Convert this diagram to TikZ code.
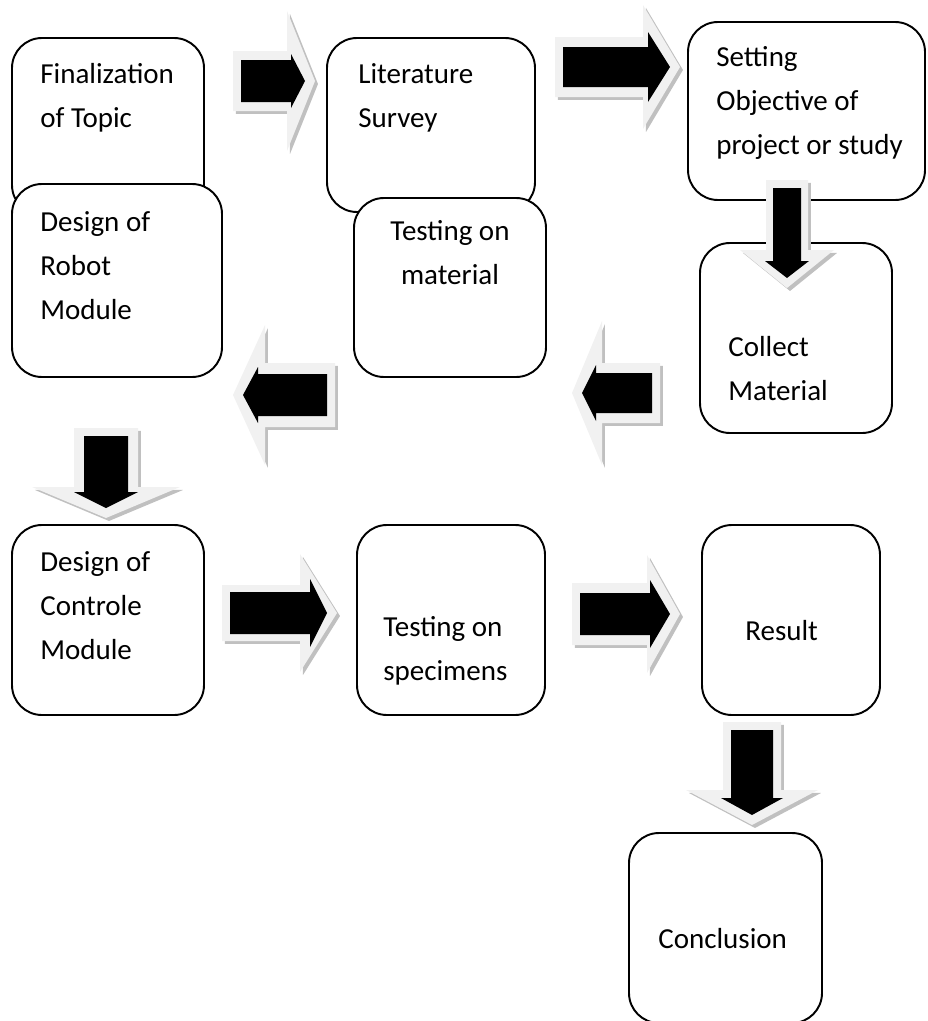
\documentclass[tikz,border=0pt]{standalone}
\usepackage{fontspec}
\setmainfont{Carlito}
\usepackage{tikz}
\usetikzlibrary{calc}
\usetikzlibrary{fit}
\definecolor{arrowgray}{RGB}{241, 241, 241}
\definecolor{shadowgray}{RGB}{192, 192, 192}

\newcommand{\pxlen}{0.02cm}
% outline of a block arrow: tail, head base, tip, shaft half width, head half width
\newcommand{\baoutline}[5]{($(#1)!#4*\pxlen!90:(#3)$) -- ($(#2)!#4*\pxlen!90:(#3)$) -- ($(#2)!#5*\pxlen!90:(#3)$) -- (#3) -- ($(#2)!#5*\pxlen!-90:(#3)$) -- ($(#2)!#4*\pxlen!-90:(#3)$) -- ($(#1)!#4*\pxlen!-90:(#3)$) -- cycle}
% tail, tip, outer shaft/head/head length, inner shaft/head/head length
\newcommand{\blockarrow}[8]{%
    \coordinate (ba-t) at (#1);
    \coordinate (ba-h) at (#2);
    \coordinate (ba-b) at ($(ba-h)!#5*\pxlen!(ba-t)$);
    \coordinate (ba-it) at ($(ba-t)!8*\pxlen!(ba-h)$);
    \coordinate (ba-ih) at ($(ba-h)!10*\pxlen!(ba-t)$);
    \coordinate (ba-ib) at ($(ba-ih)!#8*\pxlen!(ba-it)$);
    \fill[shadowgray, transform canvas={shift={(1.7pt,-1.7pt)}}] \baoutline{ba-t}{ba-b}{ba-h}{#3}{#4};
    \fill[arrowgray] \baoutline{ba-t}{ba-b}{ba-h}{#3}{#4};
    \fill[black] \baoutline{ba-it}{ba-ib}{ba-ih}{#6}{#7};
}

\begin{document}
\begin{tikzpicture}[x=0.02cm, y=-0.02cm,
            stage/.style = {
                draw,
                line width=1.1pt,
                rounded corners=0.6cm,
                fill=white,
                inner sep=0pt,
                },
            caption/.style = {
                font=\fontsize{16.5}{25}\selectfont,
                align=left,
                inner sep=0pt,
                anchor=base west}]
            \useasboundingbox (0,0) rectangle (927,1021);

            % the base of a caption is on its last line
            \node[stage, fit={(12,38) (204,215)}] (fin) {};
            \node[caption] (fin-t) at (40,127) {Finalization\\of Topic};
            \node[stage, fit={(12,184) (222,377)}] (rob) {};
            \node[caption] (rob-t) at (40,319) {Design of\\Robot\\Module};
            \node[stage, fit={(327,38) (535,212)}] (lit) {};
            \node[caption] (lit-t) at (358,127) {Literature\\Survey};
            \node[stage, fit={(354,198) (546,377)}] (mat) {};
            \node[caption, align=center, anchor=base] (mat-t) at (450,284) {Testing on\\material};
            \node[stage, fit={(688,22) (925,200)}] (set) {};
            \node[caption] (set-t) at (716,154) {Setting\\Objective of\\project or study};
            \node[stage, fit={(700,243) (892,433)}] (col) {};
            \node[caption] (col-t) at (728,400) {Collect\\Material};

            \node[stage, fit={(12,525) (204,715)}] (ctl) {};
            \node[caption] (ctl-t) at (40,659) {Design of\\Controle\\Module};
            \node[stage, fit={(357,525) (545,715)}] (spc) {};
            \node[caption] (spc-t) at (383,680) {Testing on\\specimens};
            \node[stage, fit={(702,525) (880,715)}] (res) {};
            \node[caption] (res-t) at (745,640) {Result};
            \node[stage, fit={(629,833) (822,1023)}] (con) {};
            \node[caption] (con-t) at (658,948) {Conclusion};

            \coordinate (fin-lit-s) at (233,81);
            \coordinate (fin-lit-e) at (315,81);
            \coordinate (lit-set-s) at (555,67);
            \coordinate (lit-set-e) at (680,67);
            \coordinate (set-col-s) at (787,180);
            \coordinate (set-col-e) at (787,288);
            \coordinate (col-mat-s) at (660,393);
            \coordinate (col-mat-e) at (572,393);
            \coordinate (mat-rob-s) at (335,395);
            \coordinate (mat-rob-e) at (233,395);
            \coordinate (rob-ctl-s) at (106,428);
            \coordinate (rob-ctl-e) at (106,518);
            \coordinate (ctl-spc-s) at (222,613);
            \coordinate (ctl-spc-e) at (337,613);
            \coordinate (spc-res-s) at (572,614);
            \coordinate (spc-res-e) at (680,614);
            \coordinate (res-con-s) at (752,722);
            \coordinate (res-con-e) at (752,825);

            \blockarrow{fin-lit-s}{fin-lit-e}{30}{70}{28}{21}{27}{14}
            \blockarrow{lit-set-s}{lit-set-e}{30}{62}{37}{20}{35}{22}
            \blockarrow{set-col-s}{set-col-e}{21}{47}{38}{14}{22}{17}
            \blockarrow{col-mat-s}{col-mat-e}{30}{72}{30}{20}{28}{14}
            \blockarrow{mat-rob-s}{mat-rob-e}{32}{70}{32}{21}{28}{15}
            \blockarrow{rob-ctl-s}{rob-ctl-e}{32}{74}{31}{22}{32}{16}
            \blockarrow{ctl-spc-s}{ctl-spc-e}{28}{59}{37}{21}{34}{17}
            \blockarrow{spc-res-s}{spc-res-e}{31}{59}{33}{21}{34}{20}
            \blockarrow{res-con-s}{res-con-e}{29}{66}{35}{21}{31}{17}
        \end{tikzpicture}
\end{document}
